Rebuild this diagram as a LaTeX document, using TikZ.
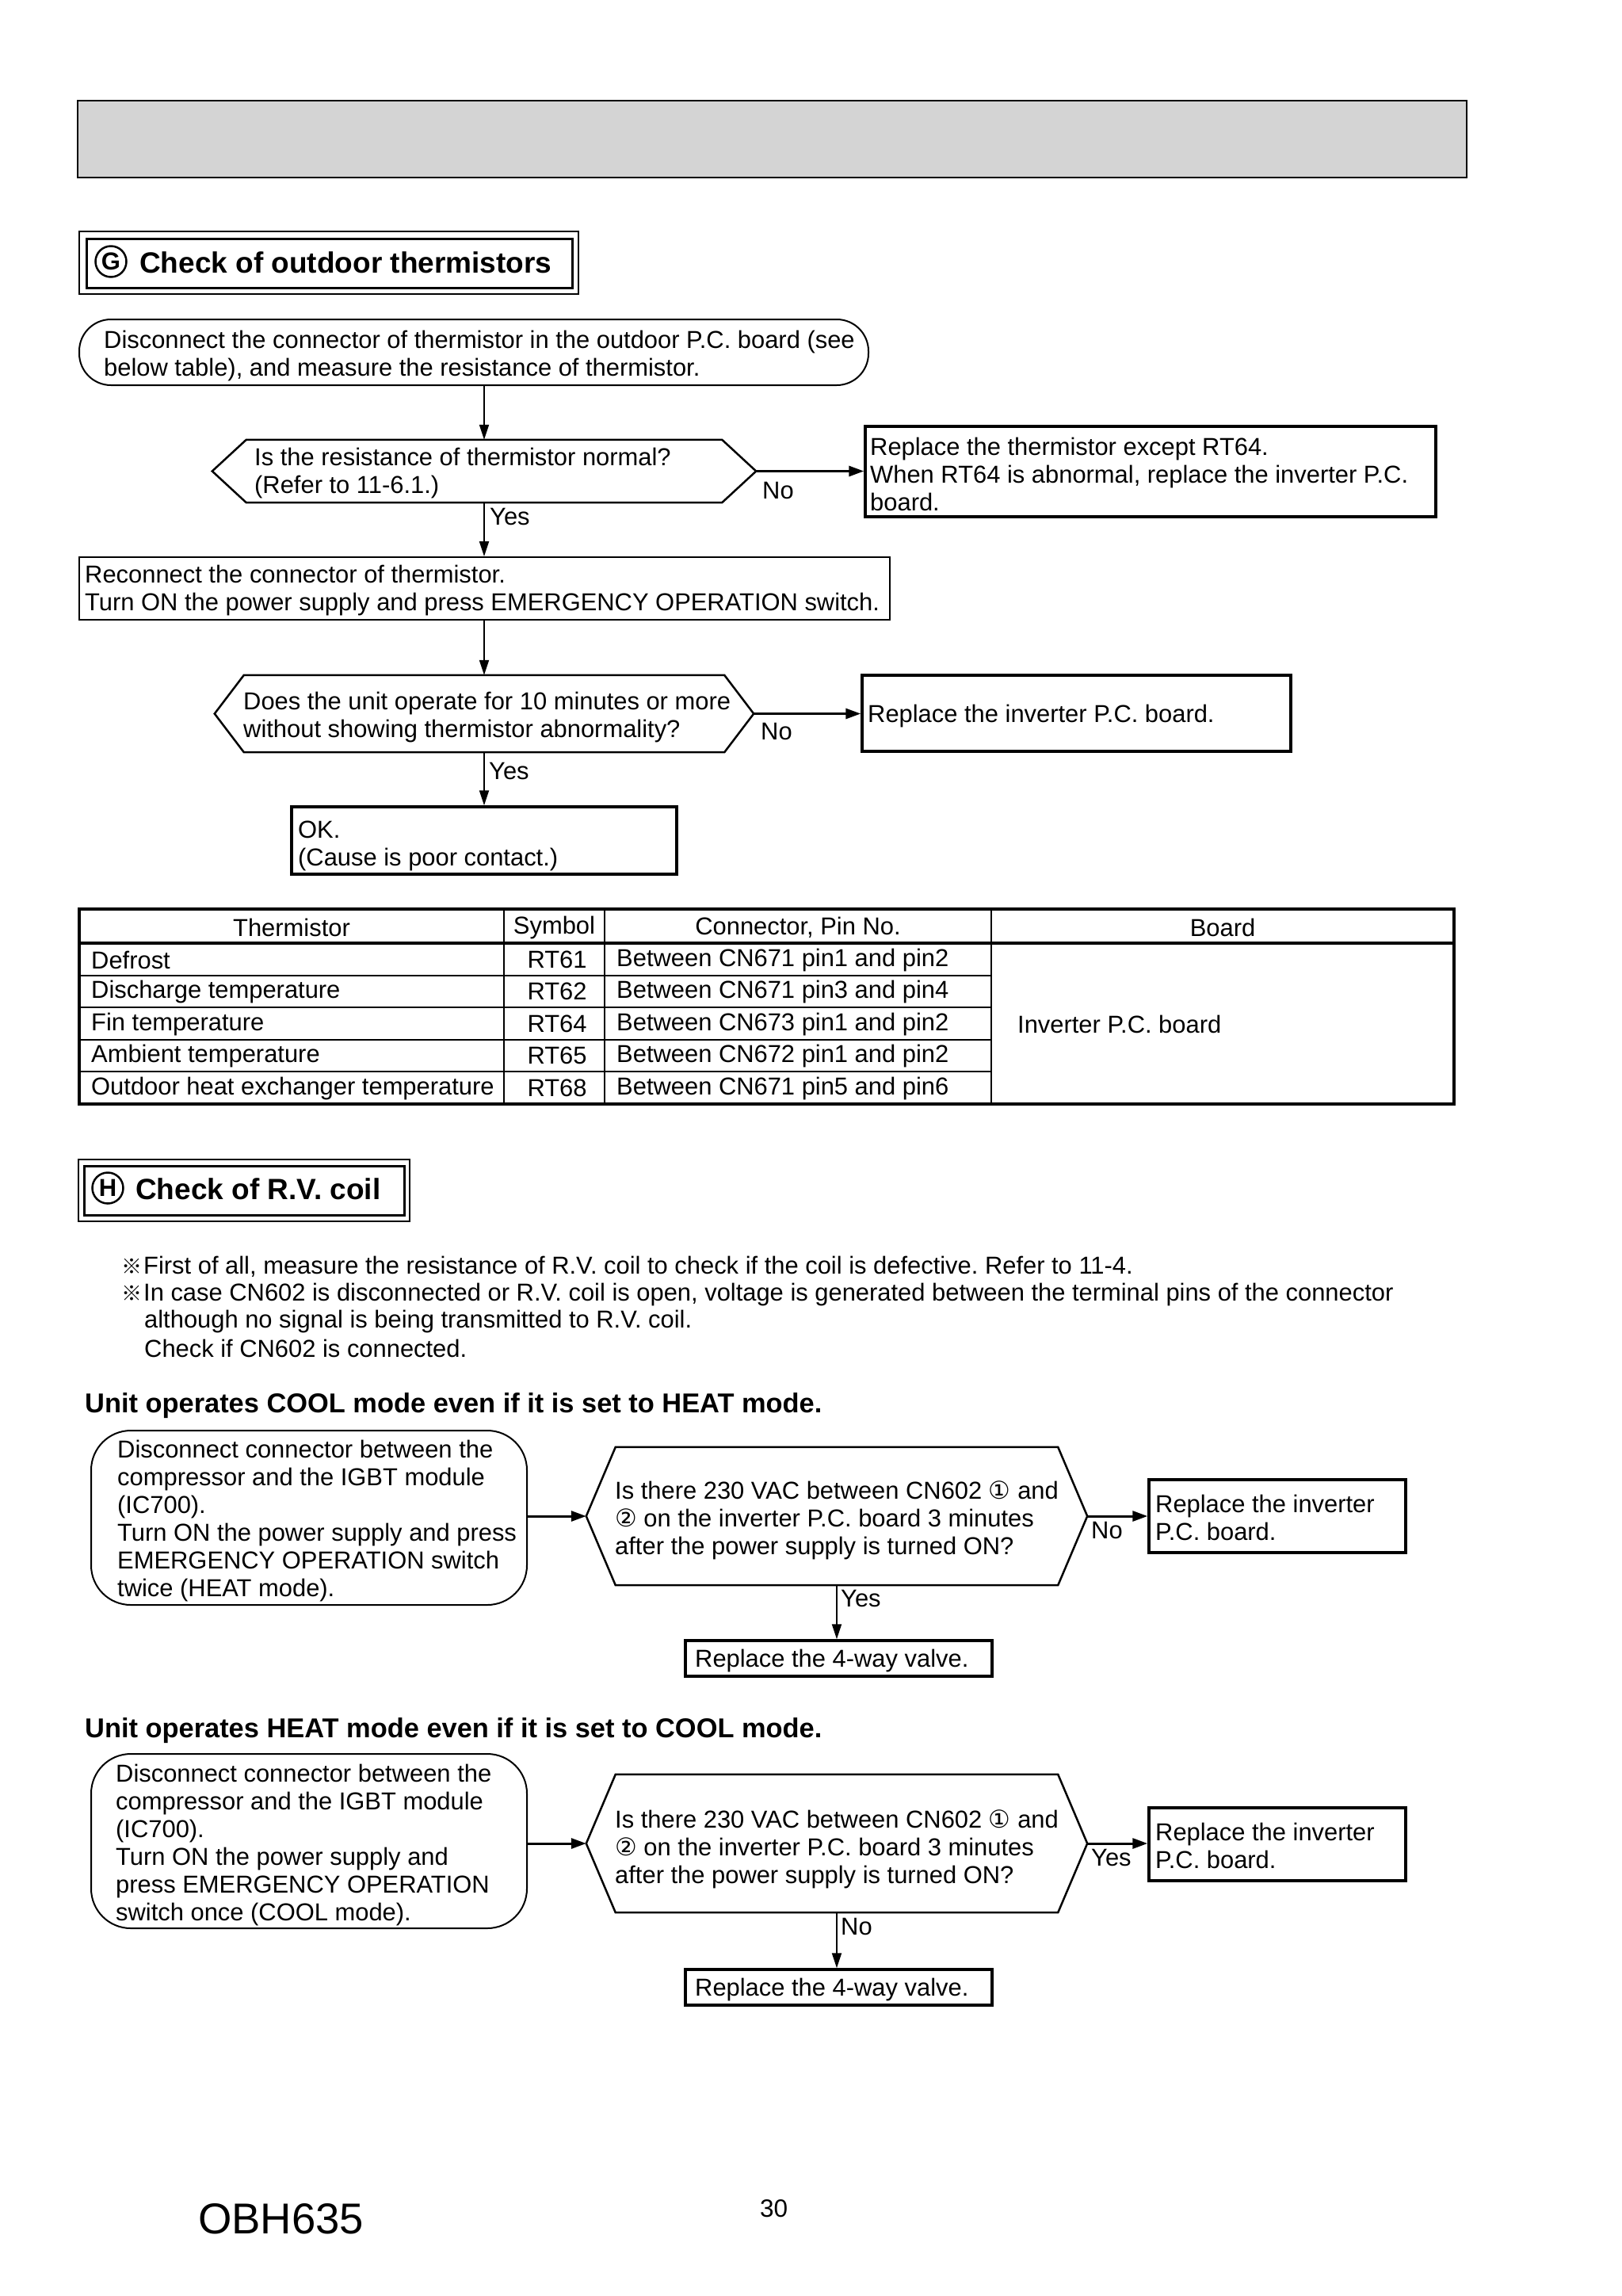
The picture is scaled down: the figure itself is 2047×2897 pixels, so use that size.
\documentclass[tikz,border=0pt]{standalone}
\usepackage{fontspec}
\setmainfont{Liberation Sans}
\newfontfamily\symf{DejaVu Sans}
\newfontfamily\cjkf{Noto Sans CJK JP}
\usetikzlibrary{arrows.meta,calc,fit}
\definecolor{bargray}{RGB}{212,212,212}
\newcommand\bodyfont{\fontsize{30.9}{35}\selectfont}
\newcommand\cn[1]{{\symf #1}}
\newcommand\refmark{{\cjkf\bfseries\fontsize{26}{26}\selectfont ※}\kern2pt}
\newcommand\hexpath[2]{\draw[hexline] (#1.west) -- ([xshift=#2pt]#1.north west) -- ([xshift=-#2pt]#1.north east) -- (#1.east) -- ([xshift=-#2pt]#1.south east) -- ([xshift=#2pt]#1.south west) -- cycle;}
\frenchspacing
\begin{document}
\frenchspacing
\begin{tikzpicture}[x=1pt,y=-1pt,
  txt/.style={font=\bodyfont, inner sep=0pt, align=left, anchor=west},
  lbl/.style={font=\bodyfont, inner sep=0pt, anchor=west},
  ctxt/.style={font=\bodyfont, inner sep=0pt, anchor=center},
  head/.style={font=\bfseries\fontsize{37}{41}\selectfont, inner sep=0pt, anchor=west},
  sub/.style={font=\bfseries\fontsize{34.4}{39}\selectfont, inner sep=0pt, anchor=west},
  circ/.style={circle, draw, line width=2.5pt, minimum size=39pt, inner sep=0pt, font=\bfseries\fontsize{31}{31}\selectfont},
  thinbox/.style={draw, line width=2pt, inner sep=0pt},
  thickbox/.style={draw, line width=3.5pt, inner sep=0pt},
  rbox/.style={draw, line width=2pt, inner sep=0pt, rounded corners=#1},
  frame/.style={draw=none, inner sep=0pt},
  hexline/.style={line width=2.5pt, line join=miter},
  arr/.style={line width=2pt, -{Triangle[length=19pt,width=12pt]}},
  harr/.style={line width=3pt, -{Triangle[length=19pt,width=13pt]}},
  tline/.style={line width=2pt},
  tthick/.style={line width=4pt}
]
\useasboundingbox (0,0) rectangle (2047,2897);

% top bar
\node[fit={(98,127) (1851,224)}, inner sep=0pt, draw, line width=2.5pt, fill=bargray] (bar) {};

% ---------- G header ----------
\node[fit={(100,292) (730,371)}, inner sep=0pt, draw, line width=2.5pt] (gout) {};
\node[fit={(109,301) (722,363)}, inner sep=0pt, draw, line width=3pt] (gin) {};
\node[circ] (gc) at (140,330) {G};
\node[head] (gt) at (176,331) {Check of outdoor thermistors};

% box 1
\node[fit={(100,403) (1096,486)}, rbox=40pt] (b1) {};
\node[txt] (b1t) at (131,449) {Disconnect the connector of thermistor in the outdoor P.C. board (see\\below table), and measure the resistance of thermistor.};

% decision 1
\node[fit={(268,555) (954,634)}, frame] (d1) {};
\hexpath{d1}{43}
\node[txt] (d1t) at (321,597) {Is the resistance of thermistor normal?\\(Refer to 11-6.1.)};
\draw[arr] (d1.north |- b1.south) -- (d1.north);

% result 1
\node[fit={(1092,538) (1812,652)}, thickbox] (r1) {};
\node[txt] (r1t) at (1098,598) {Replace the thermistor except RT64.\\When RT64 is abnormal, replace the inverter P.C.\\board.};
\draw[harr] (d1.east) -- (d1.east -| r1.west);
\node[lbl] (d1no) at (962,619) {No};

% box 2
\node[fit={(100,703) (1123,782)}, thinbox] (b2) {};
\node[txt] (b2t) at (107,745) {Reconnect the connector of thermistor.\\Turn ON the power supply and press EMERGENCY OPERATION switch.};
\draw[arr] (d1.south) -- (d1.south |- b2.north);
\node[lbl] (d1yes) at (618,652) {Yes};

% decision 2
\node[fit={(271,852) (951,949)}, frame] (d2) {};
\hexpath{d2}{37}
\node[txt] (d2t) at (307,905) {Does the unit operate for 10 minutes or more\\without showing thermistor abnormality?};
\draw[arr] (d2.north |- b2.south) -- (d2.north);

% result 2
\node[fit={(1088,852) (1629,948)}, thickbox] (r2) {};
\node[txt] (r2t) at (1095,903) {Replace the inverter P.C. board.};
\draw[harr] (d2.east) -- (d2.east -| r2.west);
\node[lbl] (d2no) at (960,923) {No};

% OK
\node[fit={(368,1018) (854,1103)}, thickbox] (ok) {};
\node[txt] (okt) at (376,1067) {OK.\\(Cause is poor contact.)};
\draw[arr] (d2.south) -- (d2.south |- ok.north);
\node[lbl] (d2yes) at (617,973) {Yes};

% ---------- table ----------
\node[fit={(100,1147) (1835,1393)}, draw, line width=4pt, inner sep=0pt] (tab) {};
\draw[tthick] (tab.west |- 0,1190) -- (tab.east |- 0,1190);
\draw[tline] (100,1231) -- (1251,1231) (100,1271) -- (1251,1271) (100,1312) -- (1251,1312) (100,1352) -- (1251,1352);
\draw[tline] (636,1147) -- (636,1393) (763,1147) -- (763,1393) (1251,1147) -- (1251,1393);
\node[ctxt] (th1) at (368,1170) {Thermistor};
\node[ctxt] (th2) at (699.5,1170) {Symbol};
\node[ctxt] (th3) at (1007,1170) {Connector, Pin No.};
\node[ctxt] (th4) at (1543,1170) {Board};
\node[lbl] (ta1) at (115,1211) {Defrost};
\node[lbl] (ta2) at (115,1251) {Discharge temperature};
\node[lbl] (ta3) at (115,1292) {Fin temperature};
\node[lbl] (ta4) at (115,1332) {Ambient temperature};
\node[lbl] (ta5) at (115,1373) {Outdoor heat exchanger temperature};
\node[ctxt] (tb1) at (703,1211) {RT61};
\node[ctxt] (tb2) at (703,1251) {RT62};
\node[ctxt] (tb3) at (703,1292) {RT64};
\node[ctxt] (tb4) at (703,1332) {RT65};
\node[ctxt] (tb5) at (703,1373) {RT68};
\node[lbl] (tc1) at (778,1211) {Between CN671 pin1 and pin2};
\node[lbl] (tc2) at (778,1251) {Between CN671 pin3 and pin4};
\node[lbl] (tc3) at (778,1292) {Between CN673 pin1 and pin2};
\node[lbl] (tc4) at (778,1332) {Between CN672 pin1 and pin2};
\node[lbl] (tc5) at (778,1373) {Between CN671 pin5 and pin6};
\node[lbl] (td) at (1284,1292) {Inverter P.C. board};

% ---------- H header ----------
\node[fit={(99,1463) (517,1541)}, inner sep=0pt, draw, line width=2.5pt] (hout) {};
\node[fit={(106,1471) (510,1533)}, inner sep=0pt, draw, line width=3pt] (hin) {};
\node[circ] (hc) at (136,1499) {H};
\node[head] (ht) at (171,1500) {Check of R.V. coil};

% notes
\node[lbl] (n1) at (153,1598) {\refmark First of all, measure the resistance of R.V. coil to check if the coil is defective. Refer to 11-4.};
\node[lbl] (n2) at (153,1633) {\refmark In case CN602 is disconnected or R.V. coil is open, voltage is generated between the terminal pins of the connector};
\node[lbl] (n3) at (182,1667) {although no signal is being transmitted to R.V. coil.};
\node[lbl] (n4) at (182,1701) {Check if CN602 is connected.};

% ---------- section 1 ----------
\node[sub] (s1) at (107,1774) {Unit operates COOL mode even if it is set to HEAT mode.};
\node[fit={(115,1805) (665,2025)}, rbox=50pt] (rb1) {};
\node[txt] (rb1t) at (148,1919) {Disconnect connector between the\\compressor and the IGBT module\\(IC700).\\Turn ON the power supply and press\\EMERGENCY OPERATION switch\\twice (HEAT mode).};
\node[fit={(740,1826) (1372,2000)}, frame] (h1) {};
\hexpath{h1}{37}
\node[txt] (h1t) at (776,1918) {Is there 230 VAC between CN602 \cn{①} and\\\cn{②} on the inverter P.C. board 3 minutes\\after the power supply is turned ON?};
\draw[harr] (h1.west -| rb1.east) -- (h1.west);
\node[fit={(1450,1867) (1774,1959)}, thickbox] (rr1) {};
\node[txt] (rr1t) at (1458,1915) {Replace the inverter\\P.C. board.};
\draw[harr] (h1.east) -- (h1.east -| rr1.west);
\node[lbl] (h1no) at (1377,1931) {No};
\node[fit={(865,2070) (1252,2115)}, thickbox] (v1) {};
\node[txt] (v1t) at (877,2095) {Replace the 4-way valve.};
\draw[arr] (h1.south) -- (h1.south |- v1.north);
\node[lbl] (h1yes) at (1061,2017) {Yes};

% ---------- section 2 ----------
\node[sub] (s2) at (107,2184) {Unit operates HEAT mode even if it is set to COOL mode.};
\node[fit={(115,2213) (665,2433)}, rbox=50pt] (rb2) {};
\node[txt] (rb2t) at (146,2328) {Disconnect connector between the\\compressor and the IGBT module\\(IC700).\\Turn ON the power supply and\\press EMERGENCY OPERATION\\switch once (COOL mode).};
\node[fit={(740,2239) (1372,2413)}, frame] (h2) {};
\hexpath{h2}{37}
\node[txt] (h2t) at (776,2333) {Is there 230 VAC between CN602 \cn{①} and\\\cn{②} on the inverter P.C. board 3 minutes\\after the power supply is turned ON?};
\draw[harr] (h2.west -| rb2.east) -- (h2.west);
\node[fit={(1450,2281) (1774,2373)}, thickbox] (rr2) {};
\node[txt] (rr2t) at (1458,2329) {Replace the inverter\\P.C. board.};
\draw[harr] (h2.east) -- (h2.east -| rr2.west);
\node[lbl] (h2yes) at (1377,2344) {Yes};
\node[fit={(865,2485) (1252,2530)}, thickbox] (v2) {};
\node[txt] (v2t) at (877,2510) {Replace the 4-way valve.};
\draw[arr] (h2.south) -- (h2.south |- v2.north);
\node[lbl] (h2no) at (1061,2431) {No};

% footer
\node[lbl, font=\fontsize{54.5}{60}\selectfont] (model) at (250,2800) {OBH635};
\node[lbl, font=\fontsize{31.5}{36}\selectfont] (page) at (959,2787) {30};
\end{tikzpicture}
\end{document}
